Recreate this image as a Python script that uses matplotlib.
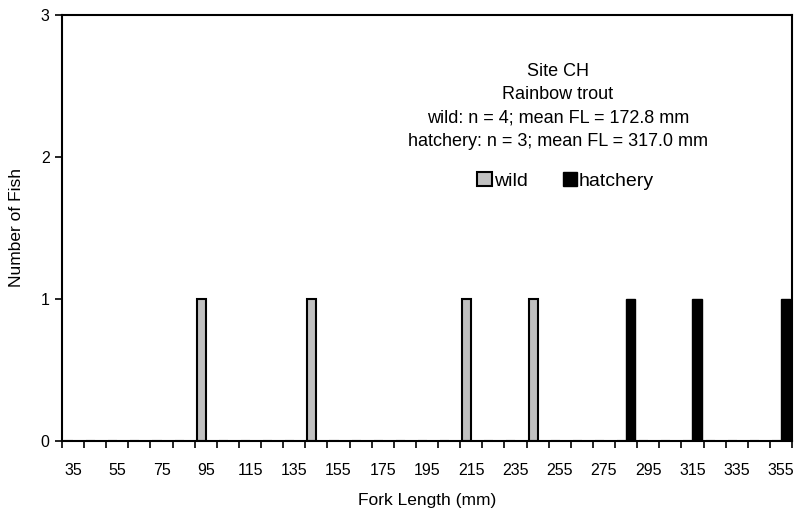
import numpy as np
from matplotlib import pyplot as plt

plt.rcParams['font.family'] = ['Liberation Sans', 'DejaVu Sans']

# 10 mm fork length bins (bin midpoints), labelled every other bin
bins = list(range(35, 356, 10))
wild_lengths = [95, 145, 215, 245]
hatchery_lengths = [285, 315, 355]
wild = [wild_lengths.count(b) for b in bins]
hatchery = [hatchery_lengths.count(b) for b in bins]

fig = plt.figure(figsize=(7.97, 5.19), dpi=100)
ax = fig.add_axes([62/797, 1 - 441/519, 730/797, 426/519])

x = np.arange(len(bins))
w = 0.41
ax.bar(x - w/2, wild, width=w, color='#c0c0c0', edgecolor='black', linewidth=1.5, label='wild')
ax.bar(x + w/2, hatchery, width=w, color='black', edgecolor='black', linewidth=1.0, label='hatchery')

ax.set_xlim(-0.5, len(bins) - 0.5)
ax.set_ylim(0, 3)
ax.set_yticks([0, 1, 2, 3])
ax.set_xticks(x[::2])
ax.set_xticklabels([str(b) for b in bins[::2]])
ax.set_xticks(np.arange(-0.5, len(bins), 1), minor=True)
ax.tick_params(axis='x', which='major', length=0, pad=16, labelsize=11.5)
ax.tick_params(axis='x', which='minor', length=5, width=1.2, direction='out')
ax.tick_params(axis='y', length=5, width=1.2, direction='out', labelsize=11.5, pad=4)
for s in ax.spines.values():
    s.set_linewidth(1.5)

ax.set_xlabel('Fork Length (mm)', fontsize=12.5, labelpad=11)
ax.set_ylabel('Number of Fish', fontsize=12.5, labelpad=12)

ax.text(0.679, 0.888,
        'Site CH\nRainbow trout\nwild: n = 4; mean FL = 172.8 mm\nhatchery: n = 3; mean FL = 317.0 mm',
        transform=ax.transAxes, ha='center', va='top', fontsize=13, linespacing=1.5)

ax.legend(loc='center', bbox_to_anchor=(0.69, 0.61), ncol=2, frameon=False,
          fontsize=14, handlelength=0.75, handleheight=0.75, handletextpad=0.1,
          columnspacing=1.8)

fig.savefig('out.png', dpi=100)
